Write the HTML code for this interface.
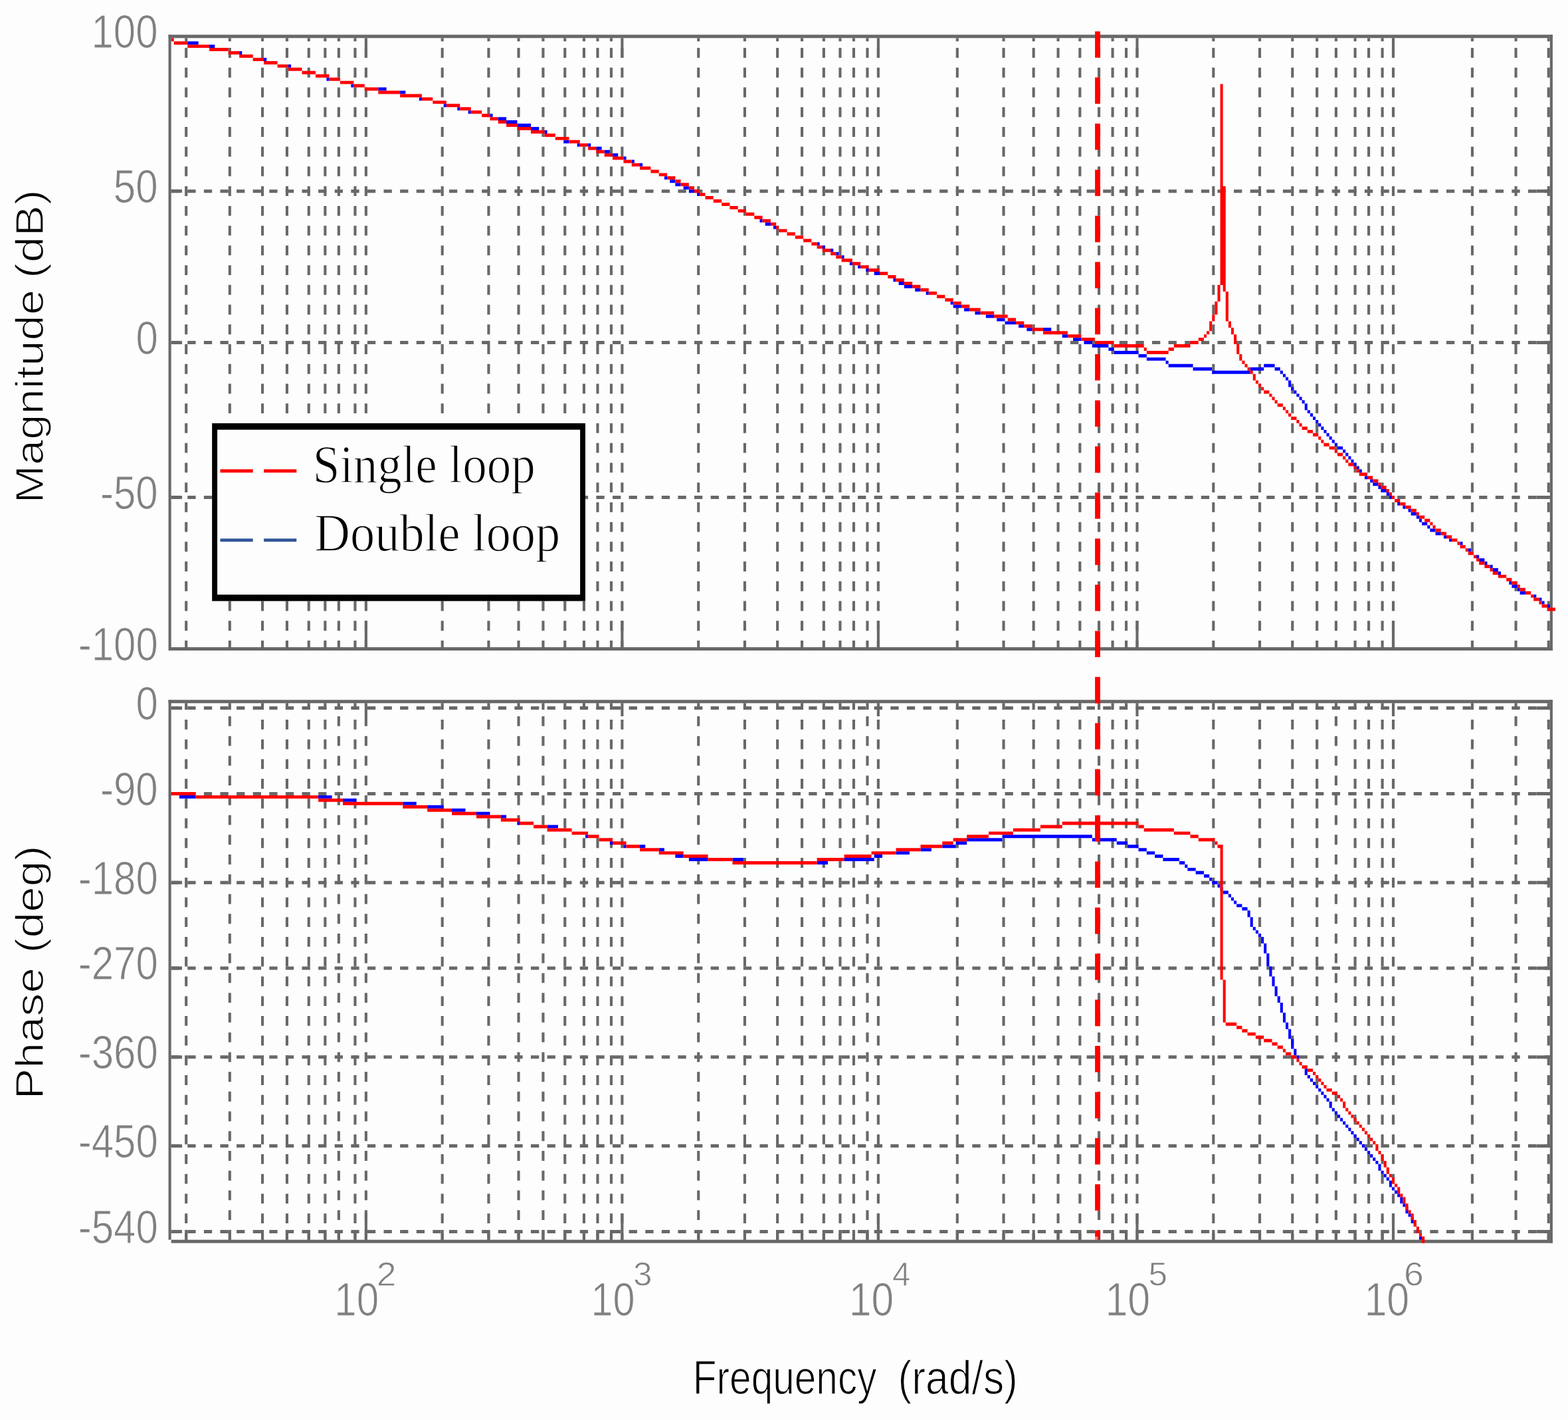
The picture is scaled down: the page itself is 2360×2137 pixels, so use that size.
<!DOCTYPE html>
<html lang="en">
<head>
<meta charset="utf-8">
<title>Bode plot: single loop vs double loop</title>
<style>
html,body{margin:0;padding:0;background:#fdfdfd;}
body{width:2360px;height:2137px;overflow:hidden;}
svg{display:block;}
</style>
</head>
<body>
<svg width="2360" height="2137" viewBox="0 0 2360 2137" role="img" aria-label="Bode plot of single loop and double loop control: magnitude and phase versus frequency">
<rect width="2360" height="2137" fill="#fdfdfd"/>
<g id="grid-top">
<line x1="280.20" y1="72.11" x2="280.20" y2="973.92" stroke="#686868" stroke-width="4.1011" stroke-dasharray="14.865 14.865"/>
<line x1="280.20" y1="57.25" x2="280.20" y2="62.20" stroke="#686868" stroke-width="4.1011"/>
<line x1="345.82" y1="72.11" x2="345.82" y2="973.92" stroke="#686868" stroke-width="4.1011" stroke-dasharray="14.865 14.865"/>
<line x1="345.82" y1="57.25" x2="345.82" y2="62.20" stroke="#686868" stroke-width="4.1011"/>
<line x1="395.04" y1="72.11" x2="395.04" y2="973.92" stroke="#686868" stroke-width="4.1011" stroke-dasharray="14.865 14.865"/>
<line x1="395.04" y1="57.25" x2="395.04" y2="62.20" stroke="#686868" stroke-width="4.1011"/>
<line x1="431.94" y1="72.11" x2="431.94" y2="973.92" stroke="#686868" stroke-width="4.1011" stroke-dasharray="14.865 14.865"/>
<line x1="431.94" y1="57.25" x2="431.94" y2="62.20" stroke="#686868" stroke-width="4.1011"/>
<line x1="464.75" y1="72.11" x2="464.75" y2="973.92" stroke="#686868" stroke-width="4.1011" stroke-dasharray="14.865 14.865"/>
<line x1="464.75" y1="57.25" x2="464.75" y2="62.20" stroke="#686868" stroke-width="4.1011"/>
<line x1="489.36" y1="72.11" x2="489.36" y2="973.92" stroke="#686868" stroke-width="4.1011" stroke-dasharray="14.865 14.865"/>
<line x1="489.36" y1="57.25" x2="489.36" y2="62.20" stroke="#686868" stroke-width="4.1011"/>
<line x1="509.87" y1="72.11" x2="509.87" y2="973.92" stroke="#686868" stroke-width="4.1011" stroke-dasharray="14.865 14.865"/>
<line x1="509.87" y1="57.25" x2="509.87" y2="62.20" stroke="#686868" stroke-width="4.1011"/>
<line x1="534.47" y1="72.11" x2="534.47" y2="973.92" stroke="#686868" stroke-width="4.1011" stroke-dasharray="14.865 14.865"/>
<line x1="534.47" y1="57.25" x2="534.47" y2="62.20" stroke="#686868" stroke-width="4.1011"/>
<line x1="550.88" y1="72.11" x2="550.88" y2="973.92" stroke="#686868" stroke-width="4.1011" stroke-dasharray="14.865 14.865"/>
<line x1="550.88" y1="57.25" x2="550.88" y2="86.97" stroke="#686868" stroke-width="4.1011"/>
<line x1="550.88" y1="934.28" x2="550.88" y2="973.92" stroke="#686868" stroke-width="4.1011"/>
<line x1="665.71" y1="72.11" x2="665.71" y2="973.92" stroke="#686868" stroke-width="4.1011" stroke-dasharray="14.865 14.865"/>
<line x1="665.71" y1="57.25" x2="665.71" y2="62.20" stroke="#686868" stroke-width="4.1011"/>
<line x1="735.43" y1="72.11" x2="735.43" y2="973.92" stroke="#686868" stroke-width="4.1011" stroke-dasharray="14.865 14.865"/>
<line x1="735.43" y1="57.25" x2="735.43" y2="62.20" stroke="#686868" stroke-width="4.1011"/>
<line x1="780.54" y1="72.11" x2="780.54" y2="973.92" stroke="#686868" stroke-width="4.1011" stroke-dasharray="14.865 14.865"/>
<line x1="780.54" y1="57.25" x2="780.54" y2="62.20" stroke="#686868" stroke-width="4.1011"/>
<line x1="817.45" y1="72.11" x2="817.45" y2="973.92" stroke="#686868" stroke-width="4.1011" stroke-dasharray="14.865 14.865"/>
<line x1="817.45" y1="57.25" x2="817.45" y2="62.20" stroke="#686868" stroke-width="4.1011"/>
<line x1="850.26" y1="72.11" x2="850.26" y2="973.92" stroke="#686868" stroke-width="4.1011" stroke-dasharray="14.865 14.865"/>
<line x1="850.26" y1="57.25" x2="850.26" y2="62.20" stroke="#686868" stroke-width="4.1011"/>
<line x1="878.96" y1="72.11" x2="878.96" y2="973.92" stroke="#686868" stroke-width="4.1011" stroke-dasharray="14.865 14.865"/>
<line x1="878.96" y1="57.25" x2="878.96" y2="62.20" stroke="#686868" stroke-width="4.1011"/>
<line x1="899.47" y1="72.11" x2="899.47" y2="973.92" stroke="#686868" stroke-width="4.1011" stroke-dasharray="14.865 14.865"/>
<line x1="899.47" y1="57.25" x2="899.47" y2="62.20" stroke="#686868" stroke-width="4.1011"/>
<line x1="919.98" y1="72.11" x2="919.98" y2="973.92" stroke="#686868" stroke-width="4.1011" stroke-dasharray="14.865 14.865"/>
<line x1="919.98" y1="57.25" x2="919.98" y2="62.20" stroke="#686868" stroke-width="4.1011"/>
<line x1="936.38" y1="72.11" x2="936.38" y2="973.92" stroke="#686868" stroke-width="4.1011" stroke-dasharray="14.865 14.865"/>
<line x1="936.38" y1="57.25" x2="936.38" y2="86.97" stroke="#686868" stroke-width="4.1011"/>
<line x1="936.38" y1="934.28" x2="936.38" y2="973.92" stroke="#686868" stroke-width="4.1011"/>
<line x1="1051.21" y1="72.11" x2="1051.21" y2="973.92" stroke="#686868" stroke-width="4.1011" stroke-dasharray="14.865 14.865"/>
<line x1="1051.21" y1="57.25" x2="1051.21" y2="62.20" stroke="#686868" stroke-width="4.1011"/>
<line x1="1120.93" y1="72.11" x2="1120.93" y2="973.92" stroke="#686868" stroke-width="4.1011" stroke-dasharray="14.865 14.865"/>
<line x1="1120.93" y1="57.25" x2="1120.93" y2="62.20" stroke="#686868" stroke-width="4.1011"/>
<line x1="1170.14" y1="72.11" x2="1170.14" y2="973.92" stroke="#686868" stroke-width="4.1011" stroke-dasharray="14.865 14.865"/>
<line x1="1170.14" y1="57.25" x2="1170.14" y2="62.20" stroke="#686868" stroke-width="4.1011"/>
<line x1="1207.05" y1="72.11" x2="1207.05" y2="973.92" stroke="#686868" stroke-width="4.1011" stroke-dasharray="14.865 14.865"/>
<line x1="1207.05" y1="57.25" x2="1207.05" y2="62.20" stroke="#686868" stroke-width="4.1011"/>
<line x1="1239.86" y1="72.11" x2="1239.86" y2="973.92" stroke="#686868" stroke-width="4.1011" stroke-dasharray="14.865 14.865"/>
<line x1="1239.86" y1="57.25" x2="1239.86" y2="62.20" stroke="#686868" stroke-width="4.1011"/>
<line x1="1264.47" y1="72.11" x2="1264.47" y2="973.92" stroke="#686868" stroke-width="4.1011" stroke-dasharray="14.865 14.865"/>
<line x1="1264.47" y1="57.25" x2="1264.47" y2="62.20" stroke="#686868" stroke-width="4.1011"/>
<line x1="1284.97" y1="72.11" x2="1284.97" y2="973.92" stroke="#686868" stroke-width="4.1011" stroke-dasharray="14.865 14.865"/>
<line x1="1284.97" y1="57.25" x2="1284.97" y2="62.20" stroke="#686868" stroke-width="4.1011"/>
<line x1="1305.48" y1="72.11" x2="1305.48" y2="973.92" stroke="#686868" stroke-width="4.1011" stroke-dasharray="14.865 14.865"/>
<line x1="1305.48" y1="57.25" x2="1305.48" y2="62.20" stroke="#686868" stroke-width="4.1011"/>
<line x1="1321.88" y1="72.11" x2="1321.88" y2="973.92" stroke="#686868" stroke-width="4.1011" stroke-dasharray="14.865 14.865"/>
<line x1="1321.88" y1="57.25" x2="1321.88" y2="86.97" stroke="#686868" stroke-width="4.1011"/>
<line x1="1321.88" y1="934.28" x2="1321.88" y2="973.92" stroke="#686868" stroke-width="4.1011"/>
<line x1="1440.82" y1="72.11" x2="1440.82" y2="973.92" stroke="#686868" stroke-width="4.1011" stroke-dasharray="14.865 14.865"/>
<line x1="1440.82" y1="57.25" x2="1440.82" y2="62.20" stroke="#686868" stroke-width="4.1011"/>
<line x1="1510.53" y1="72.11" x2="1510.53" y2="973.92" stroke="#686868" stroke-width="4.1011" stroke-dasharray="14.865 14.865"/>
<line x1="1510.53" y1="57.25" x2="1510.53" y2="62.20" stroke="#686868" stroke-width="4.1011"/>
<line x1="1555.65" y1="72.11" x2="1555.65" y2="973.92" stroke="#686868" stroke-width="4.1011" stroke-dasharray="14.865 14.865"/>
<line x1="1555.65" y1="57.25" x2="1555.65" y2="62.20" stroke="#686868" stroke-width="4.1011"/>
<line x1="1592.56" y1="72.11" x2="1592.56" y2="973.92" stroke="#686868" stroke-width="4.1011" stroke-dasharray="14.865 14.865"/>
<line x1="1592.56" y1="57.25" x2="1592.56" y2="62.20" stroke="#686868" stroke-width="4.1011"/>
<line x1="1625.37" y1="72.11" x2="1625.37" y2="973.92" stroke="#686868" stroke-width="4.1011" stroke-dasharray="14.865 14.865"/>
<line x1="1625.37" y1="57.25" x2="1625.37" y2="62.20" stroke="#686868" stroke-width="4.1011"/>
<line x1="1654.07" y1="72.11" x2="1654.07" y2="973.92" stroke="#686868" stroke-width="4.1011" stroke-dasharray="14.865 14.865"/>
<line x1="1654.07" y1="57.25" x2="1654.07" y2="62.20" stroke="#686868" stroke-width="4.1011"/>
<line x1="1674.58" y1="72.11" x2="1674.58" y2="973.92" stroke="#686868" stroke-width="4.1011" stroke-dasharray="14.865 14.865"/>
<line x1="1674.58" y1="57.25" x2="1674.58" y2="62.20" stroke="#686868" stroke-width="4.1011"/>
<line x1="1695.08" y1="72.11" x2="1695.08" y2="973.92" stroke="#686868" stroke-width="4.1011" stroke-dasharray="14.865 14.865"/>
<line x1="1695.08" y1="57.25" x2="1695.08" y2="62.20" stroke="#686868" stroke-width="4.1011"/>
<line x1="1711.49" y1="72.11" x2="1711.49" y2="973.92" stroke="#686868" stroke-width="4.1011" stroke-dasharray="14.865 14.865"/>
<line x1="1711.49" y1="57.25" x2="1711.49" y2="86.97" stroke="#686868" stroke-width="4.1011"/>
<line x1="1711.49" y1="934.28" x2="1711.49" y2="973.92" stroke="#686868" stroke-width="4.1011"/>
<line x1="1826.32" y1="72.11" x2="1826.32" y2="973.92" stroke="#686868" stroke-width="4.1011" stroke-dasharray="14.865 14.865"/>
<line x1="1826.32" y1="57.25" x2="1826.32" y2="62.20" stroke="#686868" stroke-width="4.1011"/>
<line x1="1896.04" y1="72.11" x2="1896.04" y2="973.92" stroke="#686868" stroke-width="4.1011" stroke-dasharray="14.865 14.865"/>
<line x1="1896.04" y1="57.25" x2="1896.04" y2="62.20" stroke="#686868" stroke-width="4.1011"/>
<line x1="1945.25" y1="72.11" x2="1945.25" y2="973.92" stroke="#686868" stroke-width="4.1011" stroke-dasharray="14.865 14.865"/>
<line x1="1945.25" y1="57.25" x2="1945.25" y2="62.20" stroke="#686868" stroke-width="4.1011"/>
<line x1="1982.16" y1="72.11" x2="1982.16" y2="973.92" stroke="#686868" stroke-width="4.1011" stroke-dasharray="14.865 14.865"/>
<line x1="1982.16" y1="57.25" x2="1982.16" y2="62.20" stroke="#686868" stroke-width="4.1011"/>
<line x1="2010.87" y1="72.11" x2="2010.87" y2="973.92" stroke="#686868" stroke-width="4.1011" stroke-dasharray="14.865 14.865"/>
<line x1="2010.87" y1="57.25" x2="2010.87" y2="62.20" stroke="#686868" stroke-width="4.1011"/>
<line x1="2039.58" y1="72.11" x2="2039.58" y2="973.92" stroke="#686868" stroke-width="4.1011" stroke-dasharray="14.865 14.865"/>
<line x1="2039.58" y1="57.25" x2="2039.58" y2="62.20" stroke="#686868" stroke-width="4.1011"/>
<line x1="2060.08" y1="72.11" x2="2060.08" y2="973.92" stroke="#686868" stroke-width="4.1011" stroke-dasharray="14.865 14.865"/>
<line x1="2060.08" y1="57.25" x2="2060.08" y2="62.20" stroke="#686868" stroke-width="4.1011"/>
<line x1="2080.59" y1="72.11" x2="2080.59" y2="973.92" stroke="#686868" stroke-width="4.1011" stroke-dasharray="14.865 14.865"/>
<line x1="2080.59" y1="57.25" x2="2080.59" y2="62.20" stroke="#686868" stroke-width="4.1011"/>
<line x1="2096.99" y1="72.11" x2="2096.99" y2="973.92" stroke="#686868" stroke-width="4.1011" stroke-dasharray="14.865 14.865"/>
<line x1="2096.99" y1="57.25" x2="2096.99" y2="86.97" stroke="#686868" stroke-width="4.1011"/>
<line x1="2096.99" y1="934.28" x2="2096.99" y2="973.92" stroke="#686868" stroke-width="4.1011"/>
<line x1="2215.92" y1="72.11" x2="2215.92" y2="973.92" stroke="#686868" stroke-width="4.1011" stroke-dasharray="14.865 14.865"/>
<line x1="2215.92" y1="57.25" x2="2215.92" y2="62.20" stroke="#686868" stroke-width="4.1011"/>
<line x1="2281.54" y1="72.11" x2="2281.54" y2="973.92" stroke="#686868" stroke-width="4.1011" stroke-dasharray="14.865 14.865"/>
<line x1="2281.54" y1="57.25" x2="2281.54" y2="62.20" stroke="#686868" stroke-width="4.1011"/>
<line x1="2330.75" y1="72.11" x2="2330.75" y2="973.92" stroke="#686868" stroke-width="4.1011" stroke-dasharray="14.865 14.865"/>
<line x1="2330.75" y1="57.25" x2="2330.75" y2="62.20" stroke="#686868" stroke-width="4.1011"/>
<line x1="257.65" y1="287.65" x2="2332.80" y2="287.65" stroke="#686868" stroke-width="4.955" stroke-dasharray="12.303 12.303"/>
<line x1="257.65" y1="287.65" x2="274.05" y2="287.65" stroke="#686868" stroke-width="4.955"/>
<line x1="2312.30" y1="287.65" x2="2332.80" y2="287.65" stroke="#686868" stroke-width="4.955"/>
<line x1="257.65" y1="515.58" x2="2332.80" y2="515.58" stroke="#686868" stroke-width="4.955" stroke-dasharray="12.303 12.303"/>
<line x1="257.65" y1="515.58" x2="274.05" y2="515.58" stroke="#686868" stroke-width="4.955"/>
<line x1="2312.30" y1="515.58" x2="2332.80" y2="515.58" stroke="#686868" stroke-width="4.955"/>
<line x1="257.65" y1="748.47" x2="2332.80" y2="748.47" stroke="#686868" stroke-width="4.955" stroke-dasharray="12.303 12.303"/>
<line x1="257.65" y1="748.47" x2="274.05" y2="748.47" stroke="#686868" stroke-width="4.955"/>
<line x1="2312.30" y1="748.47" x2="2332.80" y2="748.47" stroke="#686868" stroke-width="4.955"/>
<line x1="253.55" y1="54.77" x2="2336.91" y2="54.77" stroke="#686868" stroke-width="4.955"/>
<line x1="253.55" y1="976.40" x2="2336.91" y2="976.40" stroke="#686868" stroke-width="4.955"/>
<line x1="255.60" y1="52.29" x2="255.60" y2="973.92" stroke="#686868" stroke-width="4.1011"/>
<line x1="2334.86" y1="52.29" x2="2334.86" y2="978.88" stroke="#686868" stroke-width="4.1011"/>
</g>
<g id="grid-bottom">
<line x1="280.20" y1="1082.93" x2="280.20" y2="1865.82" stroke="#686868" stroke-width="4.1011" stroke-dasharray="14.865 14.865"/>
<line x1="280.20" y1="1058.15" x2="280.20" y2="1068.07" stroke="#686868" stroke-width="4.1011"/>
<line x1="280.20" y1="1850.95" x2="280.20" y2="1865.82" stroke="#686868" stroke-width="4.1011"/>
<line x1="345.82" y1="1077.98" x2="345.82" y2="1865.82" stroke="#686868" stroke-width="4.1011" stroke-dasharray="14.865 14.865"/>
<line x1="345.82" y1="1058.15" x2="345.82" y2="1068.07" stroke="#686868" stroke-width="4.1011"/>
<line x1="345.82" y1="1850.95" x2="345.82" y2="1865.82" stroke="#686868" stroke-width="4.1011"/>
<line x1="395.04" y1="1082.93" x2="395.04" y2="1865.82" stroke="#686868" stroke-width="4.1011" stroke-dasharray="14.865 14.865"/>
<line x1="395.04" y1="1058.15" x2="395.04" y2="1068.07" stroke="#686868" stroke-width="4.1011"/>
<line x1="395.04" y1="1850.95" x2="395.04" y2="1865.82" stroke="#686868" stroke-width="4.1011"/>
<line x1="431.94" y1="1082.93" x2="431.94" y2="1865.82" stroke="#686868" stroke-width="4.1011" stroke-dasharray="14.865 14.865"/>
<line x1="431.94" y1="1058.15" x2="431.94" y2="1068.07" stroke="#686868" stroke-width="4.1011"/>
<line x1="431.94" y1="1850.95" x2="431.94" y2="1865.82" stroke="#686868" stroke-width="4.1011"/>
<line x1="464.75" y1="1082.93" x2="464.75" y2="1865.82" stroke="#686868" stroke-width="4.1011" stroke-dasharray="14.865 14.865"/>
<line x1="464.75" y1="1058.15" x2="464.75" y2="1068.07" stroke="#686868" stroke-width="4.1011"/>
<line x1="464.75" y1="1850.95" x2="464.75" y2="1865.82" stroke="#686868" stroke-width="4.1011"/>
<line x1="489.36" y1="1082.93" x2="489.36" y2="1865.82" stroke="#686868" stroke-width="4.1011" stroke-dasharray="14.865 14.865"/>
<line x1="489.36" y1="1058.15" x2="489.36" y2="1068.07" stroke="#686868" stroke-width="4.1011"/>
<line x1="489.36" y1="1850.95" x2="489.36" y2="1865.82" stroke="#686868" stroke-width="4.1011"/>
<line x1="509.87" y1="1077.98" x2="509.87" y2="1865.82" stroke="#686868" stroke-width="4.1011" stroke-dasharray="14.865 14.865"/>
<line x1="509.87" y1="1058.15" x2="509.87" y2="1068.07" stroke="#686868" stroke-width="4.1011"/>
<line x1="509.87" y1="1850.95" x2="509.87" y2="1865.82" stroke="#686868" stroke-width="4.1011"/>
<line x1="534.47" y1="1082.93" x2="534.47" y2="1865.82" stroke="#686868" stroke-width="4.1011" stroke-dasharray="14.865 14.865"/>
<line x1="534.47" y1="1058.15" x2="534.47" y2="1068.07" stroke="#686868" stroke-width="4.1011"/>
<line x1="534.47" y1="1850.95" x2="534.47" y2="1865.82" stroke="#686868" stroke-width="4.1011"/>
<line x1="550.88" y1="1077.98" x2="550.88" y2="1865.82" stroke="#686868" stroke-width="4.1011" stroke-dasharray="14.865 14.865"/>
<line x1="550.88" y1="1058.15" x2="550.88" y2="1077.98" stroke="#686868" stroke-width="4.1011"/>
<line x1="550.88" y1="1826.18" x2="550.88" y2="1865.82" stroke="#686868" stroke-width="4.1011"/>
<line x1="665.71" y1="1082.93" x2="665.71" y2="1865.82" stroke="#686868" stroke-width="4.1011" stroke-dasharray="14.865 14.865"/>
<line x1="665.71" y1="1058.15" x2="665.71" y2="1068.07" stroke="#686868" stroke-width="4.1011"/>
<line x1="665.71" y1="1850.95" x2="665.71" y2="1865.82" stroke="#686868" stroke-width="4.1011"/>
<line x1="735.43" y1="1082.93" x2="735.43" y2="1865.82" stroke="#686868" stroke-width="4.1011" stroke-dasharray="14.865 14.865"/>
<line x1="735.43" y1="1058.15" x2="735.43" y2="1068.07" stroke="#686868" stroke-width="4.1011"/>
<line x1="735.43" y1="1850.95" x2="735.43" y2="1865.82" stroke="#686868" stroke-width="4.1011"/>
<line x1="780.54" y1="1077.98" x2="780.54" y2="1865.82" stroke="#686868" stroke-width="4.1011" stroke-dasharray="14.865 14.865"/>
<line x1="780.54" y1="1058.15" x2="780.54" y2="1068.07" stroke="#686868" stroke-width="4.1011"/>
<line x1="780.54" y1="1850.95" x2="780.54" y2="1865.82" stroke="#686868" stroke-width="4.1011"/>
<line x1="817.45" y1="1077.98" x2="817.45" y2="1865.82" stroke="#686868" stroke-width="4.1011" stroke-dasharray="14.865 14.865"/>
<line x1="817.45" y1="1058.15" x2="817.45" y2="1068.07" stroke="#686868" stroke-width="4.1011"/>
<line x1="817.45" y1="1850.95" x2="817.45" y2="1865.82" stroke="#686868" stroke-width="4.1011"/>
<line x1="850.26" y1="1082.93" x2="850.26" y2="1865.82" stroke="#686868" stroke-width="4.1011" stroke-dasharray="14.865 14.865"/>
<line x1="850.26" y1="1058.15" x2="850.26" y2="1068.07" stroke="#686868" stroke-width="4.1011"/>
<line x1="850.26" y1="1850.95" x2="850.26" y2="1865.82" stroke="#686868" stroke-width="4.1011"/>
<line x1="878.96" y1="1082.93" x2="878.96" y2="1865.82" stroke="#686868" stroke-width="4.1011" stroke-dasharray="14.865 14.865"/>
<line x1="878.96" y1="1058.15" x2="878.96" y2="1068.07" stroke="#686868" stroke-width="4.1011"/>
<line x1="878.96" y1="1850.95" x2="878.96" y2="1865.82" stroke="#686868" stroke-width="4.1011"/>
<line x1="899.47" y1="1082.93" x2="899.47" y2="1865.82" stroke="#686868" stroke-width="4.1011" stroke-dasharray="14.865 14.865"/>
<line x1="899.47" y1="1058.15" x2="899.47" y2="1068.07" stroke="#686868" stroke-width="4.1011"/>
<line x1="899.47" y1="1850.95" x2="899.47" y2="1865.82" stroke="#686868" stroke-width="4.1011"/>
<line x1="919.98" y1="1082.93" x2="919.98" y2="1865.82" stroke="#686868" stroke-width="4.1011" stroke-dasharray="14.865 14.865"/>
<line x1="919.98" y1="1058.15" x2="919.98" y2="1068.07" stroke="#686868" stroke-width="4.1011"/>
<line x1="919.98" y1="1850.95" x2="919.98" y2="1865.82" stroke="#686868" stroke-width="4.1011"/>
<line x1="936.38" y1="1082.93" x2="936.38" y2="1865.82" stroke="#686868" stroke-width="4.1011" stroke-dasharray="14.865 14.865"/>
<line x1="936.38" y1="1058.15" x2="936.38" y2="1077.98" stroke="#686868" stroke-width="4.1011"/>
<line x1="936.38" y1="1826.18" x2="936.38" y2="1865.82" stroke="#686868" stroke-width="4.1011"/>
<line x1="1051.21" y1="1077.98" x2="1051.21" y2="1865.82" stroke="#686868" stroke-width="4.1011" stroke-dasharray="14.865 14.865"/>
<line x1="1051.21" y1="1058.15" x2="1051.21" y2="1068.07" stroke="#686868" stroke-width="4.1011"/>
<line x1="1051.21" y1="1850.95" x2="1051.21" y2="1865.82" stroke="#686868" stroke-width="4.1011"/>
<line x1="1120.93" y1="1082.93" x2="1120.93" y2="1865.82" stroke="#686868" stroke-width="4.1011" stroke-dasharray="14.865 14.865"/>
<line x1="1120.93" y1="1058.15" x2="1120.93" y2="1068.07" stroke="#686868" stroke-width="4.1011"/>
<line x1="1120.93" y1="1850.95" x2="1120.93" y2="1865.82" stroke="#686868" stroke-width="4.1011"/>
<line x1="1170.14" y1="1082.93" x2="1170.14" y2="1865.82" stroke="#686868" stroke-width="4.1011" stroke-dasharray="14.865 14.865"/>
<line x1="1170.14" y1="1058.15" x2="1170.14" y2="1068.07" stroke="#686868" stroke-width="4.1011"/>
<line x1="1170.14" y1="1850.95" x2="1170.14" y2="1865.82" stroke="#686868" stroke-width="4.1011"/>
<line x1="1207.05" y1="1082.93" x2="1207.05" y2="1865.82" stroke="#686868" stroke-width="4.1011" stroke-dasharray="14.865 14.865"/>
<line x1="1207.05" y1="1058.15" x2="1207.05" y2="1068.07" stroke="#686868" stroke-width="4.1011"/>
<line x1="1207.05" y1="1850.95" x2="1207.05" y2="1865.82" stroke="#686868" stroke-width="4.1011"/>
<line x1="1239.86" y1="1082.93" x2="1239.86" y2="1865.82" stroke="#686868" stroke-width="4.1011" stroke-dasharray="14.865 14.865"/>
<line x1="1239.86" y1="1058.15" x2="1239.86" y2="1068.07" stroke="#686868" stroke-width="4.1011"/>
<line x1="1239.86" y1="1850.95" x2="1239.86" y2="1865.82" stroke="#686868" stroke-width="4.1011"/>
<line x1="1264.47" y1="1082.93" x2="1264.47" y2="1865.82" stroke="#686868" stroke-width="4.1011" stroke-dasharray="14.865 14.865"/>
<line x1="1264.47" y1="1058.15" x2="1264.47" y2="1068.07" stroke="#686868" stroke-width="4.1011"/>
<line x1="1264.47" y1="1850.95" x2="1264.47" y2="1865.82" stroke="#686868" stroke-width="4.1011"/>
<line x1="1284.97" y1="1082.93" x2="1284.97" y2="1865.82" stroke="#686868" stroke-width="4.1011" stroke-dasharray="14.865 14.865"/>
<line x1="1284.97" y1="1058.15" x2="1284.97" y2="1068.07" stroke="#686868" stroke-width="4.1011"/>
<line x1="1284.97" y1="1850.95" x2="1284.97" y2="1865.82" stroke="#686868" stroke-width="4.1011"/>
<line x1="1305.48" y1="1077.98" x2="1305.48" y2="1865.82" stroke="#686868" stroke-width="4.1011" stroke-dasharray="14.865 14.865"/>
<line x1="1305.48" y1="1058.15" x2="1305.48" y2="1068.07" stroke="#686868" stroke-width="4.1011"/>
<line x1="1305.48" y1="1850.95" x2="1305.48" y2="1865.82" stroke="#686868" stroke-width="4.1011"/>
<line x1="1321.88" y1="1082.93" x2="1321.88" y2="1865.82" stroke="#686868" stroke-width="4.1011" stroke-dasharray="14.865 14.865"/>
<line x1="1321.88" y1="1058.15" x2="1321.88" y2="1077.98" stroke="#686868" stroke-width="4.1011"/>
<line x1="1321.88" y1="1826.18" x2="1321.88" y2="1865.82" stroke="#686868" stroke-width="4.1011"/>
<line x1="1440.82" y1="1082.93" x2="1440.82" y2="1865.82" stroke="#686868" stroke-width="4.1011" stroke-dasharray="14.865 14.865"/>
<line x1="1440.82" y1="1058.15" x2="1440.82" y2="1068.07" stroke="#686868" stroke-width="4.1011"/>
<line x1="1440.82" y1="1850.95" x2="1440.82" y2="1865.82" stroke="#686868" stroke-width="4.1011"/>
<line x1="1510.53" y1="1082.93" x2="1510.53" y2="1865.82" stroke="#686868" stroke-width="4.1011" stroke-dasharray="14.865 14.865"/>
<line x1="1510.53" y1="1058.15" x2="1510.53" y2="1068.07" stroke="#686868" stroke-width="4.1011"/>
<line x1="1510.53" y1="1850.95" x2="1510.53" y2="1865.82" stroke="#686868" stroke-width="4.1011"/>
<line x1="1555.65" y1="1082.93" x2="1555.65" y2="1865.82" stroke="#686868" stroke-width="4.1011" stroke-dasharray="14.865 14.865"/>
<line x1="1555.65" y1="1058.15" x2="1555.65" y2="1068.07" stroke="#686868" stroke-width="4.1011"/>
<line x1="1555.65" y1="1850.95" x2="1555.65" y2="1865.82" stroke="#686868" stroke-width="4.1011"/>
<line x1="1592.56" y1="1082.93" x2="1592.56" y2="1865.82" stroke="#686868" stroke-width="4.1011" stroke-dasharray="14.865 14.865"/>
<line x1="1592.56" y1="1058.15" x2="1592.56" y2="1068.07" stroke="#686868" stroke-width="4.1011"/>
<line x1="1592.56" y1="1850.95" x2="1592.56" y2="1865.82" stroke="#686868" stroke-width="4.1011"/>
<line x1="1625.37" y1="1082.93" x2="1625.37" y2="1865.82" stroke="#686868" stroke-width="4.1011" stroke-dasharray="14.865 14.865"/>
<line x1="1625.37" y1="1058.15" x2="1625.37" y2="1068.07" stroke="#686868" stroke-width="4.1011"/>
<line x1="1625.37" y1="1850.95" x2="1625.37" y2="1865.82" stroke="#686868" stroke-width="4.1011"/>
<line x1="1654.07" y1="1077.98" x2="1654.07" y2="1865.82" stroke="#686868" stroke-width="4.1011" stroke-dasharray="14.865 14.865"/>
<line x1="1654.07" y1="1058.15" x2="1654.07" y2="1068.07" stroke="#686868" stroke-width="4.1011"/>
<line x1="1654.07" y1="1850.95" x2="1654.07" y2="1865.82" stroke="#686868" stroke-width="4.1011"/>
<line x1="1674.58" y1="1082.93" x2="1674.58" y2="1865.82" stroke="#686868" stroke-width="4.1011" stroke-dasharray="14.865 14.865"/>
<line x1="1674.58" y1="1058.15" x2="1674.58" y2="1068.07" stroke="#686868" stroke-width="4.1011"/>
<line x1="1674.58" y1="1850.95" x2="1674.58" y2="1865.82" stroke="#686868" stroke-width="4.1011"/>
<line x1="1695.08" y1="1082.93" x2="1695.08" y2="1865.82" stroke="#686868" stroke-width="4.1011" stroke-dasharray="14.865 14.865"/>
<line x1="1695.08" y1="1058.15" x2="1695.08" y2="1068.07" stroke="#686868" stroke-width="4.1011"/>
<line x1="1695.08" y1="1850.95" x2="1695.08" y2="1865.82" stroke="#686868" stroke-width="4.1011"/>
<line x1="1711.49" y1="1082.93" x2="1711.49" y2="1865.82" stroke="#686868" stroke-width="4.1011" stroke-dasharray="14.865 14.865"/>
<line x1="1711.49" y1="1058.15" x2="1711.49" y2="1077.98" stroke="#686868" stroke-width="4.1011"/>
<line x1="1711.49" y1="1826.18" x2="1711.49" y2="1865.82" stroke="#686868" stroke-width="4.1011"/>
<line x1="1826.32" y1="1082.93" x2="1826.32" y2="1865.82" stroke="#686868" stroke-width="4.1011" stroke-dasharray="14.865 14.865"/>
<line x1="1826.32" y1="1058.15" x2="1826.32" y2="1068.07" stroke="#686868" stroke-width="4.1011"/>
<line x1="1826.32" y1="1850.95" x2="1826.32" y2="1865.82" stroke="#686868" stroke-width="4.1011"/>
<line x1="1896.04" y1="1082.93" x2="1896.04" y2="1865.82" stroke="#686868" stroke-width="4.1011" stroke-dasharray="14.865 14.865"/>
<line x1="1896.04" y1="1058.15" x2="1896.04" y2="1068.07" stroke="#686868" stroke-width="4.1011"/>
<line x1="1896.04" y1="1850.95" x2="1896.04" y2="1865.82" stroke="#686868" stroke-width="4.1011"/>
<line x1="1945.25" y1="1082.93" x2="1945.25" y2="1865.82" stroke="#686868" stroke-width="4.1011" stroke-dasharray="14.865 14.865"/>
<line x1="1945.25" y1="1058.15" x2="1945.25" y2="1068.07" stroke="#686868" stroke-width="4.1011"/>
<line x1="1945.25" y1="1850.95" x2="1945.25" y2="1865.82" stroke="#686868" stroke-width="4.1011"/>
<line x1="1982.16" y1="1082.93" x2="1982.16" y2="1865.82" stroke="#686868" stroke-width="4.1011" stroke-dasharray="14.865 14.865"/>
<line x1="1982.16" y1="1058.15" x2="1982.16" y2="1068.07" stroke="#686868" stroke-width="4.1011"/>
<line x1="1982.16" y1="1850.95" x2="1982.16" y2="1865.82" stroke="#686868" stroke-width="4.1011"/>
<line x1="2010.87" y1="1077.98" x2="2010.87" y2="1865.82" stroke="#686868" stroke-width="4.1011" stroke-dasharray="14.865 14.865"/>
<line x1="2010.87" y1="1058.15" x2="2010.87" y2="1068.07" stroke="#686868" stroke-width="4.1011"/>
<line x1="2010.87" y1="1850.95" x2="2010.87" y2="1865.82" stroke="#686868" stroke-width="4.1011"/>
<line x1="2039.58" y1="1082.93" x2="2039.58" y2="1865.82" stroke="#686868" stroke-width="4.1011" stroke-dasharray="14.865 14.865"/>
<line x1="2039.58" y1="1058.15" x2="2039.58" y2="1068.07" stroke="#686868" stroke-width="4.1011"/>
<line x1="2039.58" y1="1850.95" x2="2039.58" y2="1865.82" stroke="#686868" stroke-width="4.1011"/>
<line x1="2060.08" y1="1082.93" x2="2060.08" y2="1865.82" stroke="#686868" stroke-width="4.1011" stroke-dasharray="14.865 14.865"/>
<line x1="2060.08" y1="1058.15" x2="2060.08" y2="1068.07" stroke="#686868" stroke-width="4.1011"/>
<line x1="2060.08" y1="1850.95" x2="2060.08" y2="1865.82" stroke="#686868" stroke-width="4.1011"/>
<line x1="2080.59" y1="1082.93" x2="2080.59" y2="1865.82" stroke="#686868" stroke-width="4.1011" stroke-dasharray="14.865 14.865"/>
<line x1="2080.59" y1="1058.15" x2="2080.59" y2="1068.07" stroke="#686868" stroke-width="4.1011"/>
<line x1="2080.59" y1="1850.95" x2="2080.59" y2="1865.82" stroke="#686868" stroke-width="4.1011"/>
<line x1="2096.99" y1="1082.93" x2="2096.99" y2="1865.82" stroke="#686868" stroke-width="4.1011" stroke-dasharray="14.865 14.865"/>
<line x1="2096.99" y1="1058.15" x2="2096.99" y2="1077.98" stroke="#686868" stroke-width="4.1011"/>
<line x1="2096.99" y1="1826.18" x2="2096.99" y2="1865.82" stroke="#686868" stroke-width="4.1011"/>
<line x1="2215.92" y1="1082.93" x2="2215.92" y2="1865.82" stroke="#686868" stroke-width="4.1011" stroke-dasharray="14.865 14.865"/>
<line x1="2215.92" y1="1058.15" x2="2215.92" y2="1068.07" stroke="#686868" stroke-width="4.1011"/>
<line x1="2215.92" y1="1850.95" x2="2215.92" y2="1865.82" stroke="#686868" stroke-width="4.1011"/>
<line x1="2281.54" y1="1077.98" x2="2281.54" y2="1865.82" stroke="#686868" stroke-width="4.1011" stroke-dasharray="14.865 14.865"/>
<line x1="2281.54" y1="1058.15" x2="2281.54" y2="1068.07" stroke="#686868" stroke-width="4.1011"/>
<line x1="2281.54" y1="1850.95" x2="2281.54" y2="1865.82" stroke="#686868" stroke-width="4.1011"/>
<line x1="2330.75" y1="1082.93" x2="2330.75" y2="1865.82" stroke="#686868" stroke-width="4.1011" stroke-dasharray="14.865 14.865"/>
<line x1="2330.75" y1="1058.15" x2="2330.75" y2="1068.07" stroke="#686868" stroke-width="4.1011"/>
<line x1="2330.75" y1="1850.95" x2="2330.75" y2="1865.82" stroke="#686868" stroke-width="4.1011"/>
<line x1="257.65" y1="1065.59" x2="2332.80" y2="1065.59" stroke="#686868" stroke-width="4.955" stroke-dasharray="12.303 12.303"/>
<line x1="257.65" y1="1065.59" x2="274.05" y2="1065.59" stroke="#686868" stroke-width="4.955"/>
<line x1="2312.30" y1="1065.59" x2="2332.80" y2="1065.59" stroke="#686868" stroke-width="4.955"/>
<line x1="257.65" y1="1194.42" x2="2332.80" y2="1194.42" stroke="#686868" stroke-width="4.955" stroke-dasharray="12.303 12.303"/>
<line x1="257.65" y1="1194.42" x2="274.05" y2="1194.42" stroke="#686868" stroke-width="4.955"/>
<line x1="2312.30" y1="1194.42" x2="2332.80" y2="1194.42" stroke="#686868" stroke-width="4.955"/>
<line x1="257.65" y1="1328.20" x2="2332.80" y2="1328.20" stroke="#686868" stroke-width="4.955" stroke-dasharray="12.303 12.303"/>
<line x1="257.65" y1="1328.20" x2="274.05" y2="1328.20" stroke="#686868" stroke-width="4.955"/>
<line x1="2312.30" y1="1328.20" x2="2332.80" y2="1328.20" stroke="#686868" stroke-width="4.955"/>
<line x1="257.65" y1="1457.03" x2="2332.80" y2="1457.03" stroke="#686868" stroke-width="4.955" stroke-dasharray="12.303 12.303"/>
<line x1="257.65" y1="1457.03" x2="274.05" y2="1457.03" stroke="#686868" stroke-width="4.955"/>
<line x1="2312.30" y1="1457.03" x2="2332.80" y2="1457.03" stroke="#686868" stroke-width="4.955"/>
<line x1="257.65" y1="1590.82" x2="2332.80" y2="1590.82" stroke="#686868" stroke-width="4.955" stroke-dasharray="12.303 12.303"/>
<line x1="257.65" y1="1590.82" x2="274.05" y2="1590.82" stroke="#686868" stroke-width="4.955"/>
<line x1="2312.30" y1="1590.82" x2="2332.80" y2="1590.82" stroke="#686868" stroke-width="4.955"/>
<line x1="257.65" y1="1724.60" x2="2332.80" y2="1724.60" stroke="#686868" stroke-width="4.955" stroke-dasharray="12.303 12.303"/>
<line x1="257.65" y1="1724.60" x2="274.05" y2="1724.60" stroke="#686868" stroke-width="4.955"/>
<line x1="2312.30" y1="1724.60" x2="2332.80" y2="1724.60" stroke="#686868" stroke-width="4.955"/>
<line x1="257.65" y1="1853.43" x2="2332.80" y2="1853.43" stroke="#686868" stroke-width="4.955" stroke-dasharray="12.303 12.303"/>
<line x1="257.65" y1="1853.43" x2="274.05" y2="1853.43" stroke="#686868" stroke-width="4.955"/>
<line x1="2312.30" y1="1853.43" x2="2332.80" y2="1853.43" stroke="#686868" stroke-width="4.955"/>
<line x1="253.55" y1="1055.68" x2="2336.91" y2="1055.68" stroke="#686868" stroke-width="4.955"/>
<line x1="257.65" y1="1868.30" x2="2336.91" y2="1868.30" stroke="#686868" stroke-width="4.955"/>
<line x1="255.60" y1="1053.20" x2="255.60" y2="1865.82" stroke="#686868" stroke-width="4.1011"/>
<line x1="2334.86" y1="1053.20" x2="2334.86" y2="1870.78" stroke="#686868" stroke-width="4.1011"/>
</g>
<g id="curves">
<path d="M282.25 62.20h16.40v4.96h-16.40zM315.06 67.16h8.20v4.96h-8.20zM360.18 77.06h4.10v4.96h-4.10zM397.09 86.97h4.10v4.96h-4.10zM434.00 96.88h4.10v4.96h-4.10zM491.41 116.70h4.10v4.96h-4.10zM528.32 126.61h4.10v4.96h-4.10zM569.33 131.57h12.30v4.96h-12.30zM602.14 136.53h8.20v4.96h-8.20zM630.85 146.44h4.10v4.96h-4.10zM667.76 156.34h4.10v4.96h-4.10zM688.26 161.30h4.10v4.96h-4.10zM704.67 166.26h4.10v4.96h-4.10zM737.48 171.21h4.10v4.96h-4.10zM749.78 176.17h12.30v4.96h-12.30zM762.08 181.12h16.40v4.96h-16.40zM778.49 186.08h20.51v4.96h-20.51zM798.99 191.03h12.30v4.96h-12.30zM819.50 195.99h4.10v4.96h-4.10zM848.21 210.85h8.20v4.96h-8.20zM868.71 215.81h4.10v4.96h-4.10zM885.12 215.81h4.10v4.96h-4.10zM897.42 220.76h8.20v4.96h-8.20zM909.72 225.72h8.20v4.96h-8.20zM922.03 230.67h8.20v4.96h-8.20zM938.43 235.62h4.10v4.96h-4.10zM950.73 240.58h4.10v4.96h-4.10zM963.04 245.54h4.10v4.96h-4.10zM999.95 265.36h4.10v4.96h-4.10zM1008.15 270.31h8.20v4.96h-8.20zM1016.35 275.26h8.20v4.96h-8.20zM1028.65 280.22h8.20v4.96h-8.20zM1036.86 285.18h8.20v4.96h-8.20zM1049.16 290.13h4.10v4.96h-4.10zM1143.49 329.77h4.10v4.96h-4.10zM1151.69 334.73h8.20v4.96h-8.20zM1163.99 339.68h4.10v4.96h-4.10zM1229.61 364.46h4.10v4.96h-4.10zM1237.81 369.41h4.10v4.96h-4.10zM1250.11 374.37h4.10v4.96h-4.10zM1258.32 379.32h4.10v4.96h-4.10zM1266.52 384.28h4.10v4.96h-4.10zM1278.82 394.19h4.10v4.96h-4.10zM1291.13 399.14h4.10v4.96h-4.10zM1303.43 404.10h4.10v4.96h-4.10zM1315.73 409.05h8.20v4.96h-8.20zM1344.44 418.96h4.10v4.96h-4.10zM1352.64 423.92h8.20v4.96h-8.20zM1360.84 428.87h12.30v4.96h-12.30zM1377.25 433.82h8.20v4.96h-8.20zM1393.65 438.78h4.10v4.96h-4.10zM1430.56 453.65h4.10v4.96h-4.10zM1434.66 458.60h12.30v4.96h-12.30zM1451.07 463.56h8.20v4.96h-8.20zM1467.47 468.51h8.20v4.96h-8.20zM1483.88 473.47h12.30v4.96h-12.30zM1500.28 478.42h12.30v4.96h-12.30zM1512.58 483.38h16.40v4.96h-16.40zM1533.09 488.33h8.20v4.96h-8.20zM1545.39 493.29h8.20v4.96h-8.20zM1570.00 493.29h12.30v4.96h-12.30zM1598.71 503.19h8.20v4.96h-8.20zM1615.11 508.15h12.30v4.96h-12.30zM1631.52 513.11h12.30v4.96h-12.30zM1643.82 518.06h24.61v4.96h-24.61zM1668.43 523.01h8.20v4.96h-8.20zM1676.63 527.97h36.91v4.96h-36.91zM1713.54 532.93h12.30v4.96h-12.30zM1725.84 537.88h28.71v4.96h-28.71zM1754.55 542.84h4.10v4.96h-4.10zM1758.65 547.79h36.91v4.96h-36.91zM1902.19 547.79h16.40v4.96h-16.40zM1795.56 552.75h28.71v4.96h-28.71zM1881.68 552.75h20.51v4.96h-20.51zM1918.59 552.75h8.20v4.96h-8.20zM1824.27 557.70h57.42v4.96h-57.42zM1926.80 557.70h4.10v4.96h-4.10zM1930.90 562.65h4.10v4.96h-4.10zM1935.00 567.61h4.10v4.96h-4.10zM1939.10 572.57h4.10v4.96h-4.10zM1939.10 577.52h4.10v4.96h-4.10zM1943.20 582.48h4.10v4.96h-4.10zM1947.30 587.43h4.10v4.96h-4.10zM1951.40 592.38h4.10v4.96h-4.10zM1955.50 597.34h4.10v4.96h-4.10zM1959.60 602.30h4.10v4.96h-4.10zM1963.71 607.25h4.10v4.96h-4.10zM1963.71 612.21h4.10v4.96h-4.10zM1967.81 617.16h4.10v4.96h-4.10zM1971.91 622.12h4.10v4.96h-4.10zM1976.01 627.07h4.10v4.96h-4.10zM1980.11 632.02h4.10v4.96h-4.10zM1984.21 636.98h4.10v4.96h-4.10zM1988.31 641.94h4.10v4.96h-4.10zM1992.41 646.89h4.10v4.96h-4.10zM1996.51 651.85h4.10v4.96h-4.10zM2000.62 656.80h4.10v4.96h-4.10zM2004.72 661.75h4.10v4.96h-4.10zM2008.82 666.71h4.10v4.96h-4.10zM2012.92 671.66h8.20v4.96h-8.20zM2021.12 676.62h4.10v4.96h-4.10zM2025.22 681.58h4.10v4.96h-4.10zM2029.32 686.53h4.10v4.96h-4.10zM2033.42 691.49h4.10v4.96h-4.10zM2037.53 696.44h4.10v4.96h-4.10zM2041.63 701.39h4.10v4.96h-4.10zM2045.73 706.35h4.10v4.96h-4.10zM2053.93 716.26h4.10v4.96h-4.10zM2062.13 721.22h4.10v4.96h-4.10zM2066.23 726.17h8.20v4.96h-8.20zM2074.44 731.12h4.10v4.96h-4.10zM2078.54 736.08h8.20v4.96h-8.20zM2086.74 741.03h4.10v4.96h-4.10zM2090.84 745.99h4.10v4.96h-4.10zM2103.14 755.90h4.10v4.96h-4.10zM2111.35 760.86h4.10v4.96h-4.10zM2119.55 765.81h4.10v4.96h-4.10zM2123.65 770.76h8.20v4.96h-8.20zM2131.85 775.72h4.10v4.96h-4.10zM2135.95 780.68h4.10v4.96h-4.10zM2140.05 785.63h8.20v4.96h-8.20zM2148.26 790.59h4.10v4.96h-4.10zM2152.36 795.54h8.20v4.96h-8.20zM2160.56 800.50h8.20v4.96h-8.20zM2172.86 805.45h4.10v4.96h-4.10zM2181.06 810.40h4.10v4.96h-4.10zM2197.47 815.36h4.10v4.96h-4.10zM2209.77 825.27h4.10v4.96h-4.10zM2222.08 835.18h4.10v4.96h-4.10zM2226.18 840.13h8.20v4.96h-8.20zM2234.38 845.09h4.10v4.96h-4.10zM2242.58 850.05h4.10v4.96h-4.10zM2246.68 855.00h8.20v4.96h-8.20zM2254.88 859.96h4.10v4.96h-4.10zM2271.29 874.82h4.10v4.96h-4.10zM2275.39 879.77h8.20v4.96h-8.20zM2283.59 884.73h4.10v4.96h-4.10zM2287.69 889.69h8.20v4.96h-8.20zM2308.20 894.64h4.10v4.96h-4.10zM2316.40 899.60h4.10v4.96h-4.10zM2320.50 904.55h4.10v4.96h-4.10zM2328.70 909.50h4.10v4.96h-4.10z" fill="#0000ff"/>
<path d="M257.65 57.25h4.10v4.96h-4.10zM261.75 62.20h20.51v4.96h-20.51zM282.25 67.16h32.81v4.96h-32.81zM315.06 72.11h28.71v4.96h-28.71zM343.77 77.06h16.40v4.96h-16.40zM360.18 82.02h20.51v4.96h-20.51zM380.68 86.97h16.40v4.96h-16.40zM397.09 91.93h20.51v4.96h-20.51zM417.59 96.88h16.40v4.96h-16.40zM434.00 101.84h20.51v4.96h-20.51zM454.50 106.80h20.51v4.96h-20.51zM475.01 111.75h20.51v4.96h-20.51zM495.51 116.70h16.40v4.96h-16.40zM511.92 121.66h20.51v4.96h-20.51zM532.42 126.61h16.40v4.96h-16.40zM1836.57 126.61h4.10v4.96h-4.10zM548.83 131.57h20.51v4.96h-20.51zM1836.57 131.57h4.10v4.96h-4.10zM569.33 136.53h32.81v4.96h-32.81zM1836.57 136.53h4.10v4.96h-4.10zM602.14 141.48h32.81v4.96h-32.81zM1836.57 141.48h4.10v4.96h-4.10zM634.95 146.44h16.40v4.96h-16.40zM1836.57 146.44h4.10v4.96h-4.10zM651.35 151.39h20.51v4.96h-20.51zM1836.57 151.39h4.10v4.96h-4.10zM671.86 156.34h20.51v4.96h-20.51zM1836.57 156.34h4.10v4.96h-4.10zM692.36 161.30h16.40v4.96h-16.40zM1836.57 161.30h4.10v4.96h-4.10zM708.77 166.26h16.40v4.96h-16.40zM1836.57 166.26h4.10v4.96h-4.10zM725.17 171.21h12.30v4.96h-12.30zM1836.57 171.21h4.10v4.96h-4.10zM737.48 176.17h12.30v4.96h-12.30zM1836.57 176.17h4.10v4.96h-4.10zM749.78 181.12h12.30v4.96h-12.30zM1836.57 181.12h4.10v4.96h-4.10zM762.08 186.08h16.40v4.96h-16.40zM1836.57 186.08h4.10v4.96h-4.10zM778.49 191.03h20.51v4.96h-20.51zM1836.57 191.03h4.10v4.96h-4.10zM798.99 195.99h20.51v4.96h-20.51zM1836.57 195.99h4.10v4.96h-4.10zM819.50 200.94h16.40v4.96h-16.40zM1836.57 200.94h4.10v4.96h-4.10zM835.90 205.90h20.51v4.96h-20.51zM1836.57 205.90h4.10v4.96h-4.10zM856.41 210.85h16.40v4.96h-16.40zM1836.57 210.85h4.10v4.96h-4.10zM872.81 215.81h12.30v4.96h-12.30zM1836.57 215.81h4.10v4.96h-4.10zM885.12 220.76h12.30v4.96h-12.30zM1836.57 220.76h4.10v4.96h-4.10zM897.42 225.72h12.30v4.96h-12.30zM1836.57 225.72h4.10v4.96h-4.10zM909.72 230.67h12.30v4.96h-12.30zM1836.57 230.67h4.10v4.96h-4.10zM922.03 235.62h16.40v4.96h-16.40zM1836.57 235.62h4.10v4.96h-4.10zM938.43 240.58h12.30v4.96h-12.30zM1836.57 240.58h4.10v4.96h-4.10zM950.73 245.54h12.30v4.96h-12.30zM1836.57 245.54h4.10v4.96h-4.10zM963.04 250.49h16.40v4.96h-16.40zM1836.57 250.49h4.10v4.96h-4.10zM979.44 255.45h12.30v4.96h-12.30zM1836.57 255.45h4.10v4.96h-4.10zM991.75 260.40h12.30v4.96h-12.30zM1836.57 260.40h4.10v4.96h-4.10zM1004.05 265.36h12.30v4.96h-12.30zM1836.57 265.36h4.10v4.96h-4.10zM1016.35 270.31h8.20v4.96h-8.20zM1836.57 270.31h4.10v4.96h-4.10zM1024.55 275.26h12.30v4.96h-12.30zM1836.57 275.26h4.10v4.96h-4.10zM1036.86 280.22h8.20v4.96h-8.20zM1836.57 280.22h8.20v4.96h-8.20zM1045.06 285.18h8.20v4.96h-8.20zM1836.57 285.18h8.20v4.96h-8.20zM1053.26 290.13h8.20v4.96h-8.20zM1836.57 290.13h8.20v4.96h-8.20zM1061.46 295.09h12.30v4.96h-12.30zM1836.57 295.09h8.20v4.96h-8.20zM1073.77 300.04h12.30v4.96h-12.30zM1836.57 300.04h8.20v4.96h-8.20zM1086.07 305.00h12.30v4.96h-12.30zM1836.57 305.00h8.20v4.96h-8.20zM1098.37 309.95h12.30v4.96h-12.30zM1836.57 309.95h8.20v4.96h-8.20zM1110.68 314.91h12.30v4.96h-12.30zM1836.57 314.91h8.20v4.96h-8.20zM1122.98 319.86h12.30v4.96h-12.30zM1836.57 319.86h8.20v4.96h-8.20zM1135.28 324.81h12.30v4.96h-12.30zM1836.57 324.81h8.20v4.96h-8.20zM1147.59 329.77h12.30v4.96h-12.30zM1836.57 329.77h8.20v4.96h-8.20zM1159.89 334.73h8.20v4.96h-8.20zM1836.57 334.73h8.20v4.96h-8.20zM1168.09 339.68h4.10v4.96h-4.10zM1836.57 339.68h8.20v4.96h-8.20zM1172.19 344.63h12.30v4.96h-12.30zM1836.57 344.63h8.20v4.96h-8.20zM1184.50 349.59h12.30v4.96h-12.30zM1836.57 349.59h8.20v4.96h-8.20zM1196.80 354.55h12.30v4.96h-12.30zM1836.57 354.55h8.20v4.96h-8.20zM1209.10 359.50h12.30v4.96h-12.30zM1836.57 359.50h8.20v4.96h-8.20zM1221.41 364.46h8.20v4.96h-8.20zM1836.57 364.46h8.20v4.96h-8.20zM1229.61 369.41h8.20v4.96h-8.20zM1836.57 369.41h8.20v4.96h-8.20zM1237.81 374.37h12.30v4.96h-12.30zM1836.57 374.37h8.20v4.96h-8.20zM1250.11 379.32h8.20v4.96h-8.20zM1836.57 379.32h8.20v4.96h-8.20zM1258.32 384.28h8.20v4.96h-8.20zM1836.57 384.28h8.20v4.96h-8.20zM1266.52 389.23h16.40v4.96h-16.40zM1836.57 389.23h8.20v4.96h-8.20zM1282.92 394.19h12.30v4.96h-12.30zM1836.57 394.19h8.20v4.96h-8.20zM1295.23 399.14h12.30v4.96h-12.30zM1836.57 399.14h8.20v4.96h-8.20zM1307.53 404.10h16.40v4.96h-16.40zM1836.57 404.10h8.20v4.96h-8.20zM1323.93 409.05h12.30v4.96h-12.30zM1836.57 409.05h8.20v4.96h-8.20zM1336.24 414.00h12.30v4.96h-12.30zM1836.57 414.00h8.20v4.96h-8.20zM1348.54 418.96h12.30v4.96h-12.30zM1836.57 418.96h8.20v4.96h-8.20zM1360.84 423.92h12.30v4.96h-12.30zM1836.57 423.92h8.20v4.96h-8.20zM1373.15 428.87h12.30v4.96h-12.30zM1832.47 428.87h4.10v4.96h-4.10zM1840.67 428.87h4.10v4.96h-4.10zM1385.45 433.82h12.30v4.96h-12.30zM1832.47 433.82h4.10v4.96h-4.10zM1840.67 433.82h4.10v4.96h-4.10zM1397.75 438.78h12.30v4.96h-12.30zM1832.47 438.78h4.10v4.96h-4.10zM1844.77 438.78h4.10v4.96h-4.10zM1410.06 443.74h12.30v4.96h-12.30zM1832.47 443.74h4.10v4.96h-4.10zM1844.77 443.74h4.10v4.96h-4.10zM1422.36 448.69h12.30v4.96h-12.30zM1832.47 448.69h4.10v4.96h-4.10zM1844.77 448.69h4.10v4.96h-4.10zM1434.66 453.65h12.30v4.96h-12.30zM1828.37 453.65h4.10v4.96h-4.10zM1844.77 453.65h4.10v4.96h-4.10zM1446.97 458.60h12.30v4.96h-12.30zM1828.37 458.60h4.10v4.96h-4.10zM1844.77 458.60h4.10v4.96h-4.10zM1459.27 463.56h16.40v4.96h-16.40zM1828.37 463.56h4.10v4.96h-4.10zM1844.77 463.56h4.10v4.96h-4.10zM1475.67 468.51h20.51v4.96h-20.51zM1828.37 468.51h4.10v4.96h-4.10zM1844.77 468.51h4.10v4.96h-4.10zM1496.18 473.47h20.51v4.96h-20.51zM1824.27 473.47h4.10v4.96h-4.10zM1844.77 473.47h4.10v4.96h-4.10zM1516.69 478.42h12.30v4.96h-12.30zM1824.27 478.42h4.10v4.96h-4.10zM1844.77 478.42h4.10v4.96h-4.10zM1528.99 483.38h12.30v4.96h-12.30zM1820.17 483.38h4.10v4.96h-4.10zM1848.88 483.38h4.10v4.96h-4.10zM1541.29 488.33h12.30v4.96h-12.30zM1820.17 488.33h4.10v4.96h-4.10zM1848.88 488.33h4.10v4.96h-4.10zM1553.60 493.29h16.40v4.96h-16.40zM1820.17 493.29h4.10v4.96h-4.10zM1852.98 493.29h4.10v4.96h-4.10zM1570.00 498.24h36.91v4.96h-36.91zM1816.07 498.24h4.10v4.96h-4.10zM1852.98 498.24h4.10v4.96h-4.10zM1606.91 503.19h20.51v4.96h-20.51zM1811.97 503.19h4.10v4.96h-4.10zM1857.08 503.19h4.10v4.96h-4.10zM1627.42 508.15h20.51v4.96h-20.51zM1803.76 508.15h8.20v4.96h-8.20zM1857.08 508.15h4.10v4.96h-4.10zM1647.92 513.11h28.71v4.96h-28.71zM1791.46 513.11h12.30v4.96h-12.30zM1857.08 513.11h4.10v4.96h-4.10zM1676.63 518.06h45.11v4.96h-45.11zM1766.85 518.06h24.61v4.96h-24.61zM1861.18 518.06h4.10v4.96h-4.10zM1721.74 523.01h4.10v4.96h-4.10zM1758.65 523.01h8.20v4.96h-8.20zM1861.18 523.01h4.10v4.96h-4.10zM1725.84 527.97h32.81v4.96h-32.81zM1861.18 527.97h4.10v4.96h-4.10zM1865.28 532.93h4.10v4.96h-4.10zM1865.28 537.88h4.10v4.96h-4.10zM1869.38 542.84h4.10v4.96h-4.10zM1873.48 547.79h4.10v4.96h-4.10zM1877.58 552.75h4.10v4.96h-4.10zM1881.68 557.70h4.10v4.96h-4.10zM1885.78 562.65h4.10v4.96h-4.10zM1885.78 567.61h4.10v4.96h-4.10zM1889.89 572.57h4.10v4.96h-4.10zM1893.99 577.52h4.10v4.96h-4.10zM1898.09 582.48h4.10v4.96h-4.10zM1902.19 587.43h8.20v4.96h-8.20zM1910.39 592.38h4.10v4.96h-4.10zM1914.49 597.34h4.10v4.96h-4.10zM1918.59 602.30h4.10v4.96h-4.10zM1922.69 607.25h8.20v4.96h-8.20zM1930.90 612.21h4.10v4.96h-4.10zM1935.00 617.16h4.10v4.96h-4.10zM1939.10 622.12h4.10v4.96h-4.10zM1943.20 627.07h8.20v4.96h-8.20zM1951.40 632.02h4.10v4.96h-4.10zM1955.50 636.98h4.10v4.96h-4.10zM1959.60 641.94h8.20v4.96h-8.20zM1967.81 646.89h8.20v4.96h-8.20zM1976.01 651.85h8.20v4.96h-8.20zM1984.21 656.80h4.10v4.96h-4.10zM1988.31 661.75h4.10v4.96h-4.10zM1992.41 666.71h8.20v4.96h-8.20zM2000.62 671.66h8.20v4.96h-8.20zM2008.82 676.62h4.10v4.96h-4.10zM2012.92 681.58h8.20v4.96h-8.20zM2021.12 686.53h4.10v4.96h-4.10zM2025.22 691.49h4.10v4.96h-4.10zM2029.32 696.44h8.20v4.96h-8.20zM2037.53 701.39h4.10v4.96h-4.10zM2041.63 706.35h4.10v4.96h-4.10zM2045.73 711.31h12.30v4.96h-12.30zM2058.03 716.26h8.20v4.96h-8.20zM2066.23 721.22h8.20v4.96h-8.20zM2074.44 726.17h4.10v4.96h-4.10zM2078.54 731.12h8.20v4.96h-8.20zM2086.74 736.08h4.10v4.96h-4.10zM2090.84 741.03h4.10v4.96h-4.10zM2094.94 745.99h4.10v4.96h-4.10zM2099.04 750.95h8.20v4.96h-8.20zM2107.24 755.90h8.20v4.96h-8.20zM2115.45 760.86h8.20v4.96h-8.20zM2123.65 765.81h8.20v4.96h-8.20zM2131.85 770.76h4.10v4.96h-4.10zM2135.95 775.72h8.20v4.96h-8.20zM2144.15 780.68h8.20v4.96h-8.20zM2152.36 785.63h4.10v4.96h-4.10zM2156.46 790.59h4.10v4.96h-4.10zM2160.56 795.54h8.20v4.96h-8.20zM2168.76 800.50h8.20v4.96h-8.20zM2176.96 805.45h8.20v4.96h-8.20zM2185.17 810.40h8.20v4.96h-8.20zM2193.37 815.36h4.10v4.96h-4.10zM2197.47 820.32h8.20v4.96h-8.20zM2205.67 825.27h4.10v4.96h-4.10zM2209.77 830.23h8.20v4.96h-8.20zM2217.97 835.18h4.10v4.96h-4.10zM2222.08 840.13h4.10v4.96h-4.10zM2226.18 845.09h8.20v4.96h-8.20zM2234.38 850.05h8.20v4.96h-8.20zM2242.58 855.00h4.10v4.96h-4.10zM2246.68 859.96h8.20v4.96h-8.20zM2254.88 864.91h12.30v4.96h-12.30zM2267.19 869.87h8.20v4.96h-8.20zM2275.39 874.82h8.20v4.96h-8.20zM2283.59 879.77h4.10v4.96h-4.10zM2287.69 884.73h8.20v4.96h-8.20zM2295.89 889.69h8.20v4.96h-8.20zM2304.10 894.64h4.10v4.96h-4.10zM2308.20 899.60h8.20v4.96h-8.20zM2316.40 904.55h4.10v4.96h-4.10zM2320.50 909.50h8.20v4.96h-8.20zM2328.70 914.46h12.30v4.96h-12.30z" fill="#ff0000"/>
<path d="M269.95 1196.89h24.61v4.96h-24.61zM479.11 1196.89h20.51v4.96h-20.51zM516.02 1201.85h20.51v4.96h-20.51zM606.24 1206.81h20.51v4.96h-20.51zM643.15 1211.76h24.61v4.96h-24.61zM680.06 1216.71h20.51v4.96h-20.51zM716.97 1221.67h20.51v4.96h-20.51zM753.88 1226.62h8.20v4.96h-8.20zM778.49 1236.54h4.10v4.96h-4.10zM823.60 1241.49h16.40v4.96h-16.40zM881.02 1256.36h4.10v4.96h-4.10zM1508.48 1256.36h135.34v4.96h-135.34zM1455.17 1261.31h53.31v4.96h-53.31zM1643.82 1261.31h36.91v4.96h-36.91zM917.93 1266.27h4.10v4.96h-4.10zM1438.77 1266.27h16.40v4.96h-16.40zM1680.73 1266.27h16.40v4.96h-16.40zM938.43 1271.22h4.10v4.96h-4.10zM963.04 1271.22h8.20v4.96h-8.20zM1418.26 1271.22h20.51v4.96h-20.51zM1697.13 1271.22h16.40v4.96h-16.40zM991.75 1276.17h8.20v4.96h-8.20zM1385.45 1276.17h16.40v4.96h-16.40zM1713.54 1276.17h12.30v4.96h-12.30zM1348.54 1281.13h20.51v4.96h-20.51zM1725.84 1281.13h12.30v4.96h-12.30zM1016.35 1286.09h12.30v4.96h-12.30zM1315.73 1286.09h12.30v4.96h-12.30zM1738.15 1286.09h12.30v4.96h-12.30zM1036.86 1291.04h28.71v4.96h-28.71zM1102.47 1291.04h16.40v4.96h-16.40zM1270.62 1291.04h45.11v4.96h-45.11zM1750.45 1291.04h24.61v4.96h-24.61zM1229.61 1296.00h16.40v4.96h-16.40zM1775.06 1296.00h8.20v4.96h-8.20zM1783.26 1300.95h4.10v4.96h-4.10zM1787.36 1305.90h12.30v4.96h-12.30zM1799.66 1310.86h12.30v4.96h-12.30zM1811.97 1315.82h8.20v4.96h-8.20zM1820.17 1320.77h4.10v4.96h-4.10zM1824.27 1325.73h8.20v4.96h-8.20zM1832.47 1330.68h4.10v4.96h-4.10zM1836.57 1335.63h4.10v4.96h-4.10zM1840.67 1340.59h8.20v4.96h-8.20zM1848.88 1345.55h4.10v4.96h-4.10zM1852.98 1350.50h4.10v4.96h-4.10zM1857.08 1355.45h4.10v4.96h-4.10zM1861.18 1360.41h8.20v4.96h-8.20zM1869.38 1365.37h8.20v4.96h-8.20zM1877.58 1370.32h4.10v4.96h-4.10zM1877.58 1375.28h4.10v4.96h-4.10zM1881.68 1380.23h4.10v4.96h-4.10zM1881.68 1385.18h4.10v4.96h-4.10zM1881.68 1390.14h4.10v4.96h-4.10zM1885.78 1395.10h4.10v4.96h-4.10zM1889.89 1400.05h4.10v4.96h-4.10zM1893.99 1405.01h4.10v4.96h-4.10zM1898.09 1409.96h4.10v4.96h-4.10zM1898.09 1414.91h4.10v4.96h-4.10zM1902.19 1419.87h4.10v4.96h-4.10zM1902.19 1424.83h4.10v4.96h-4.10zM1902.19 1429.78h4.10v4.96h-4.10zM1906.29 1434.74h4.10v4.96h-4.10zM1906.29 1439.69h4.10v4.96h-4.10zM1906.29 1444.64h4.10v4.96h-4.10zM1906.29 1449.60h4.10v4.96h-4.10zM1910.39 1454.56h4.10v4.96h-4.10zM1910.39 1459.51h4.10v4.96h-4.10zM1910.39 1464.46h4.10v4.96h-4.10zM1914.49 1469.42h4.10v4.96h-4.10zM1914.49 1474.38h4.10v4.96h-4.10zM1914.49 1479.33h4.10v4.96h-4.10zM1918.59 1484.29h4.10v4.96h-4.10zM1918.59 1489.24h4.10v4.96h-4.10zM1918.59 1494.19h4.10v4.96h-4.10zM1922.69 1499.15h4.10v4.96h-4.10zM1922.69 1504.11h4.10v4.96h-4.10zM1926.80 1509.06h4.10v4.96h-4.10zM1926.80 1514.02h4.10v4.96h-4.10zM1926.80 1518.97h4.10v4.96h-4.10zM1930.90 1523.92h4.10v4.96h-4.10zM1930.90 1528.88h4.10v4.96h-4.10zM1930.90 1533.84h4.10v4.96h-4.10zM1935.00 1538.79h4.10v4.96h-4.10zM1935.00 1543.75h4.10v4.96h-4.10zM1939.10 1548.70h4.10v4.96h-4.10zM1939.10 1553.65h4.10v4.96h-4.10zM1939.10 1558.61h4.10v4.96h-4.10zM1943.20 1563.57h4.10v4.96h-4.10zM1943.20 1568.52h4.10v4.96h-4.10zM1943.20 1573.48h4.10v4.96h-4.10zM1947.30 1578.43h4.10v4.96h-4.10zM1947.30 1583.38h4.10v4.96h-4.10zM1951.40 1588.34h4.10v4.96h-4.10zM1963.71 1608.16h4.10v4.96h-4.10zM1963.71 1613.12h4.10v4.96h-4.10zM1967.81 1618.07h4.10v4.96h-4.10zM1971.91 1623.03h4.10v4.96h-4.10zM1976.01 1627.98h4.10v4.96h-4.10zM1980.11 1632.93h4.10v4.96h-4.10zM1984.21 1637.89h4.10v4.96h-4.10zM1988.31 1642.85h4.10v4.96h-4.10zM1992.41 1647.80h4.10v4.96h-4.10zM1996.51 1652.76h4.10v4.96h-4.10zM2000.62 1657.71h4.10v4.96h-4.10zM2000.62 1662.66h4.10v4.96h-4.10zM2004.72 1667.62h4.10v4.96h-4.10zM2008.82 1672.58h4.10v4.96h-4.10zM2012.92 1677.53h4.10v4.96h-4.10zM2017.02 1682.49h4.10v4.96h-4.10zM2021.12 1687.44h4.10v4.96h-4.10zM2025.22 1692.39h4.10v4.96h-4.10zM2029.32 1697.35h4.10v4.96h-4.10zM2033.42 1702.31h4.10v4.96h-4.10zM2037.53 1707.26h4.10v4.96h-4.10zM2041.63 1712.22h4.10v4.96h-4.10zM2045.73 1717.17h4.10v4.96h-4.10zM2049.83 1722.12h4.10v4.96h-4.10zM2053.93 1727.08h4.10v4.96h-4.10zM2058.03 1732.04h4.10v4.96h-4.10zM2062.13 1736.99h4.10v4.96h-4.10zM2066.23 1741.94h4.10v4.96h-4.10zM2070.33 1746.90h4.10v4.96h-4.10zM2074.44 1751.86h4.10v4.96h-4.10zM2074.44 1756.81h4.10v4.96h-4.10zM2078.54 1761.77h4.10v4.96h-4.10zM2082.64 1766.72h4.10v4.96h-4.10zM2086.74 1771.67h4.10v4.96h-4.10zM2090.84 1776.63h4.10v4.96h-4.10zM2090.84 1781.59h4.10v4.96h-4.10zM2094.94 1786.54h4.10v4.96h-4.10zM2099.04 1791.50h4.10v4.96h-4.10zM2103.14 1796.45h4.10v4.96h-4.10zM2107.24 1801.40h4.10v4.96h-4.10zM2107.24 1806.36h4.10v4.96h-4.10zM2111.35 1811.32h4.10v4.96h-4.10zM2115.45 1816.27h4.10v4.96h-4.10zM2115.45 1821.23h4.10v4.96h-4.10zM2119.55 1826.18h4.10v4.96h-4.10zM2123.65 1831.13h4.10v4.96h-4.10zM2123.65 1836.09h4.10v4.96h-4.10zM2127.75 1841.05h4.10v4.96h-4.10zM2131.85 1850.95h4.10v4.96h-4.10zM2135.95 1860.87h4.10v4.96h-4.10z" fill="#0000ff"/>
<path d="M257.65 1191.94h36.91v4.96h-36.91zM294.56 1196.89h184.55v4.96h-184.55zM479.11 1201.85h36.91v4.96h-36.91zM516.02 1206.81h90.22v4.96h-90.22zM606.24 1211.76h36.91v4.96h-36.91zM643.15 1216.71h36.91v4.96h-36.91zM680.06 1221.67h36.91v4.96h-36.91zM716.97 1226.62h36.91v4.96h-36.91zM753.88 1231.58h28.71v4.96h-28.71zM782.59 1236.54h20.51v4.96h-20.51zM1598.71 1236.54h114.83v4.96h-114.83zM803.09 1241.49h20.51v4.96h-20.51zM1565.90 1241.49h32.81v4.96h-32.81zM1713.54 1241.49h8.20v4.96h-8.20zM823.60 1246.44h36.91v4.96h-36.91zM1524.89 1246.44h41.01v4.96h-41.01zM1721.74 1246.44h45.11v4.96h-45.11zM860.51 1251.40h24.61v4.96h-24.61zM1487.98 1251.40h36.91v4.96h-36.91zM1766.85 1251.40h24.61v4.96h-24.61zM885.12 1256.36h16.40v4.96h-16.40zM1455.17 1256.36h32.81v4.96h-32.81zM1791.46 1256.36h12.30v4.96h-12.30zM901.52 1261.31h20.51v4.96h-20.51zM1434.66 1261.31h20.51v4.96h-20.51zM1803.76 1261.31h24.61v4.96h-24.61zM922.03 1266.27h20.51v4.96h-20.51zM1418.26 1266.27h16.40v4.96h-16.40zM1828.37 1266.27h4.10v4.96h-4.10zM942.53 1271.22h20.51v4.96h-20.51zM1385.45 1271.22h32.81v4.96h-32.81zM1832.47 1271.22h8.20v4.96h-8.20zM963.04 1276.17h28.71v4.96h-28.71zM1348.54 1276.17h36.91v4.96h-36.91zM1836.57 1276.17h4.10v4.96h-4.10zM991.75 1281.13h36.91v4.96h-36.91zM1311.63 1281.13h36.91v4.96h-36.91zM1836.57 1281.13h4.10v4.96h-4.10zM1028.65 1286.09h36.91v4.96h-36.91zM1270.62 1286.09h41.01v4.96h-41.01zM1836.57 1286.09h4.10v4.96h-4.10zM1065.56 1291.04h36.91v4.96h-36.91zM1229.61 1291.04h41.01v4.96h-41.01zM1836.57 1291.04h4.10v4.96h-4.10zM1102.47 1296.00h127.13v4.96h-127.13zM1836.57 1296.00h4.10v4.96h-4.10zM1836.57 1300.95h4.10v4.96h-4.10zM1836.57 1305.90h4.10v4.96h-4.10zM1836.57 1310.86h4.10v4.96h-4.10zM1836.57 1315.82h4.10v4.96h-4.10zM1836.57 1320.77h4.10v4.96h-4.10zM1836.57 1325.73h4.10v4.96h-4.10zM1836.57 1330.68h4.10v4.96h-4.10zM1836.57 1335.63h4.10v4.96h-4.10zM1836.57 1340.59h4.10v4.96h-4.10zM1836.57 1345.55h4.10v4.96h-4.10zM1836.57 1350.50h4.10v4.96h-4.10zM1836.57 1355.45h4.10v4.96h-4.10zM1836.57 1360.41h4.10v4.96h-4.10zM1836.57 1365.37h4.10v4.96h-4.10zM1836.57 1370.32h4.10v4.96h-4.10zM1836.57 1375.28h4.10v4.96h-4.10zM1836.57 1380.23h4.10v4.96h-4.10zM1836.57 1385.18h4.10v4.96h-4.10zM1836.57 1390.14h4.10v4.96h-4.10zM1836.57 1395.10h4.10v4.96h-4.10zM1836.57 1400.05h4.10v4.96h-4.10zM1836.57 1405.01h4.10v4.96h-4.10zM1836.57 1409.96h4.10v4.96h-4.10zM1836.57 1414.91h4.10v4.96h-4.10zM1836.57 1419.87h4.10v4.96h-4.10zM1836.57 1424.83h4.10v4.96h-4.10zM1836.57 1429.78h4.10v4.96h-4.10zM1836.57 1434.74h4.10v4.96h-4.10zM1836.57 1439.69h4.10v4.96h-4.10zM1836.57 1444.64h4.10v4.96h-4.10zM1836.57 1449.60h4.10v4.96h-4.10zM1836.57 1454.56h4.10v4.96h-4.10zM1836.57 1459.51h4.10v4.96h-4.10zM1836.57 1464.46h4.10v4.96h-4.10zM1836.57 1469.42h4.10v4.96h-4.10zM1840.67 1474.38h4.10v4.96h-4.10zM1840.67 1479.33h4.10v4.96h-4.10zM1840.67 1484.29h4.10v4.96h-4.10zM1840.67 1489.24h4.10v4.96h-4.10zM1840.67 1494.19h4.10v4.96h-4.10zM1840.67 1499.15h4.10v4.96h-4.10zM1840.67 1504.11h4.10v4.96h-4.10zM1840.67 1509.06h4.10v4.96h-4.10zM1840.67 1514.02h4.10v4.96h-4.10zM1840.67 1518.97h4.10v4.96h-4.10zM1840.67 1523.92h4.10v4.96h-4.10zM1840.67 1528.88h4.10v4.96h-4.10zM1840.67 1533.84h4.10v4.96h-4.10zM1844.77 1538.79h16.40v4.96h-16.40zM1861.18 1543.75h8.20v4.96h-8.20zM1869.38 1548.70h8.20v4.96h-8.20zM1877.58 1553.65h12.30v4.96h-12.30zM1889.89 1558.61h12.30v4.96h-12.30zM1902.19 1563.57h12.30v4.96h-12.30zM1914.49 1568.52h8.20v4.96h-8.20zM1922.69 1573.48h8.20v4.96h-8.20zM1930.90 1578.43h4.10v4.96h-4.10zM1935.00 1583.38h8.20v4.96h-8.20zM1943.20 1588.34h8.20v4.96h-8.20zM1951.40 1593.30h4.10v4.96h-4.10zM1955.50 1598.25h4.10v4.96h-4.10zM1959.60 1603.20h8.20v4.96h-8.20zM1967.81 1608.16h8.20v4.96h-8.20zM1976.01 1613.12h4.10v4.96h-4.10zM1980.11 1618.07h4.10v4.96h-4.10zM1984.21 1623.03h4.10v4.96h-4.10zM1988.31 1627.98h4.10v4.96h-4.10zM1992.41 1632.93h4.10v4.96h-4.10zM1996.51 1637.89h8.20v4.96h-8.20zM2004.72 1642.85h8.20v4.96h-8.20zM2012.92 1647.80h4.10v4.96h-4.10zM2017.02 1652.76h4.10v4.96h-4.10zM2021.12 1657.71h4.10v4.96h-4.10zM2021.12 1662.66h4.10v4.96h-4.10zM2025.22 1667.62h4.10v4.96h-4.10zM2029.32 1672.58h4.10v4.96h-4.10zM2033.42 1677.53h4.10v4.96h-4.10zM2037.53 1682.49h4.10v4.96h-4.10zM2041.63 1687.44h4.10v4.96h-4.10zM2045.73 1692.39h4.10v4.96h-4.10zM2049.83 1697.35h4.10v4.96h-4.10zM2053.93 1702.31h4.10v4.96h-4.10zM2058.03 1707.26h4.10v4.96h-4.10zM2062.13 1712.22h4.10v4.96h-4.10zM2066.23 1717.17h4.10v4.96h-4.10zM2070.33 1722.12h4.10v4.96h-4.10zM2070.33 1727.08h4.10v4.96h-4.10zM2074.44 1732.04h4.10v4.96h-4.10zM2078.54 1736.99h4.10v4.96h-4.10zM2078.54 1741.94h4.10v4.96h-4.10zM2082.64 1746.90h4.10v4.96h-4.10zM2082.64 1751.86h4.10v4.96h-4.10zM2086.74 1756.81h4.10v4.96h-4.10zM2086.74 1761.77h4.10v4.96h-4.10zM2090.84 1766.72h4.10v4.96h-4.10zM2094.94 1771.67h4.10v4.96h-4.10zM2094.94 1776.63h4.10v4.96h-4.10zM2099.04 1781.59h4.10v4.96h-4.10zM2103.14 1786.54h4.10v4.96h-4.10zM2103.14 1791.50h4.10v4.96h-4.10zM2107.24 1796.45h4.10v4.96h-4.10zM2111.35 1801.40h4.10v4.96h-4.10zM2111.35 1806.36h4.10v4.96h-4.10zM2115.45 1811.32h4.10v4.96h-4.10zM2115.45 1816.27h4.10v4.96h-4.10zM2119.55 1821.23h4.10v4.96h-4.10zM2123.65 1826.18h4.10v4.96h-4.10zM2123.65 1831.13h4.10v4.96h-4.10zM2127.75 1836.09h4.10v4.96h-4.10zM2127.75 1841.05h4.10v4.96h-4.10zM2131.85 1846.00h4.10v4.96h-4.10zM2131.85 1850.95h4.10v4.96h-4.10zM2135.95 1855.91h4.10v4.96h-4.10zM2140.05 1860.87h4.10v4.96h-4.10zM2140.05 1865.82h4.10v4.96h-4.10z" fill="#ff0000"/>
<line x1="1652.0" y1="47.2" x2="1652.0" y2="1861.4" stroke="#ff0000" stroke-width="7.8" stroke-dasharray="39.6 29.8"/>
<rect x="1648.1" y="1861.2" width="3.9" height="4.8" fill="#ff8080"/>
<rect x="1652.0" y="1861.2" width="3.9" height="4.8" fill="#b83030"/>
</g>
<g id="legend">
<rect x="319.16" y="636.98" width="561.85" height="267.57" fill="#000"/>
<rect x="327.07" y="646.69" width="546.05" height="248.15" fill="#fdfdfd"/>
<line x1="331.47" y1="708.83" x2="446.30" y2="708.83" stroke="#ff0000" stroke-width="4.955" stroke-dasharray="49.21 16.40"/>
<line x1="331.47" y1="812.88" x2="446.30" y2="812.88" stroke="#2f5597" stroke-width="4.955" stroke-dasharray="49.21 16.40"/>
<text transform="translate(470.85,725.70) scale(0.9032,1)" font-family="'Liberation Serif', serif" font-size="80.91" fill="#000" stroke="#fdfdfd" stroke-width="1.4">Single loop</text>
<text transform="translate(473.37,829.20) scale(0.9197,1)" font-family="'Liberation Serif', serif" font-size="80.91" fill="#000" stroke="#fdfdfd" stroke-width="1.4">Double loop</text>
</g>
<g id="ticklabels">
<text transform="translate(137.50,72.07) scale(0.8502,1)" font-family="'Liberation Sans', sans-serif" font-size="70.57" fill="#808080" stroke="#fdfdfd" stroke-width="1.0">100</text>
<text transform="translate(170.80,304.95) scale(0.8502,1)" font-family="'Liberation Sans', sans-serif" font-size="70.57" fill="#808080" stroke="#fdfdfd" stroke-width="1.0">50</text>
<text transform="translate(204.40,532.88) scale(0.8502,1)" font-family="'Liberation Sans', sans-serif" font-size="70.57" fill="#808080" stroke="#fdfdfd" stroke-width="1.0">0</text>
<text transform="translate(151.00,765.77) scale(0.8502,1)" font-family="'Liberation Sans', sans-serif" font-size="70.57" fill="#808080" stroke="#fdfdfd" stroke-width="1.0">-50</text>
<text transform="translate(117.70,993.70) scale(0.8502,1)" font-family="'Liberation Sans', sans-serif" font-size="70.57" fill="#808080" stroke="#fdfdfd" stroke-width="1.0">-100</text>
<text transform="translate(204.40,1082.89) scale(0.8502,1)" font-family="'Liberation Sans', sans-serif" font-size="70.57" fill="#808080" stroke="#fdfdfd" stroke-width="1.0">0</text>
<text transform="translate(151.00,1211.72) scale(0.8502,1)" font-family="'Liberation Sans', sans-serif" font-size="70.57" fill="#808080" stroke="#fdfdfd" stroke-width="1.0">-90</text>
<text transform="translate(117.70,1345.50) scale(0.8502,1)" font-family="'Liberation Sans', sans-serif" font-size="70.57" fill="#808080" stroke="#fdfdfd" stroke-width="1.0">-180</text>
<text transform="translate(117.70,1474.33) scale(0.8502,1)" font-family="'Liberation Sans', sans-serif" font-size="70.57" fill="#808080" stroke="#fdfdfd" stroke-width="1.0">-270</text>
<text transform="translate(117.70,1608.12) scale(0.8502,1)" font-family="'Liberation Sans', sans-serif" font-size="70.57" fill="#808080" stroke="#fdfdfd" stroke-width="1.0">-360</text>
<text transform="translate(117.70,1741.90) scale(0.8502,1)" font-family="'Liberation Sans', sans-serif" font-size="70.57" fill="#808080" stroke="#fdfdfd" stroke-width="1.0">-450</text>
<text transform="translate(117.70,1870.73) scale(0.8502,1)" font-family="'Liberation Sans', sans-serif" font-size="70.57" fill="#808080" stroke="#fdfdfd" stroke-width="1.0">-540</text>
<text transform="translate(503.29,1979.70) scale(0.8496,1)" font-family="'Liberation Sans', sans-serif" font-size="70.86" fill="#808080" stroke="#fdfdfd" stroke-width="1.0">10</text>
<text transform="translate(566.63,1934.90) scale(1.0805,1)" font-family="'Liberation Sans', sans-serif" font-size="49.43" fill="#808080" stroke="#fdfdfd" stroke-width="0.8">2</text>
<text transform="translate(889.54,1979.70) scale(0.8397,1)" font-family="'Liberation Sans', sans-serif" font-size="70.86" fill="#808080" stroke="#fdfdfd" stroke-width="1.0">10</text>
<text transform="translate(952.95,1934.90) scale(1.0374,1)" font-family="'Liberation Sans', sans-serif" font-size="49.43" fill="#808080" stroke="#fdfdfd" stroke-width="0.8">3</text>
<text transform="translate(1277.96,1979.70) scale(0.8538,1)" font-family="'Liberation Sans', sans-serif" font-size="70.86" fill="#808080" stroke="#fdfdfd" stroke-width="1.0">10</text>
<text transform="translate(1343.07,1934.90) scale(0.9954,1)" font-family="'Liberation Sans', sans-serif" font-size="49.43" fill="#808080" stroke="#fdfdfd" stroke-width="0.8">4</text>
<text transform="translate(1663.42,1979.70) scale(0.8609,1)" font-family="'Liberation Sans', sans-serif" font-size="70.86" fill="#808080" stroke="#fdfdfd" stroke-width="1.0">10</text>
<text transform="translate(1728.55,1934.90) scale(1.0392,1)" font-family="'Liberation Sans', sans-serif" font-size="49.43" fill="#808080" stroke="#fdfdfd" stroke-width="0.8">5</text>
<text transform="translate(2053.43,1979.70) scale(0.8609,1)" font-family="'Liberation Sans', sans-serif" font-size="70.86" fill="#808080" stroke="#fdfdfd" stroke-width="1.0">10</text>
<text transform="translate(2112.93,1934.90) scale(1.0819,1)" font-family="'Liberation Sans', sans-serif" font-size="49.43" fill="#808080" stroke="#fdfdfd" stroke-width="0.8">6</text>
</g>
<g id="axislabels">
<g aria-label="Frequency (rad/s)">
<text transform="translate(1042.81,2098.20) scale(0.8165,1)" font-family="'Liberation Sans', sans-serif" font-size="71.74" fill="#000" stroke="#fdfdfd" stroke-width="1.4">Frequency</text>
<text transform="translate(1351.55,2098.20) scale(0.8701,1)" font-family="'Liberation Sans', sans-serif" font-size="71.74" fill="#000" stroke="#fdfdfd" stroke-width="1.4">(rad/s)</text>
</g>
<g aria-label="Magnitude (dB)">
<text transform="translate(64.80,757.51) rotate(-90) scale(1.1654,1)" font-family="'Liberation Sans', sans-serif" font-size="59.13" fill="#000" stroke="#fdfdfd" stroke-width="1.4">Magnitude</text>
<text transform="translate(64.80,418.95) rotate(-90) scale(1.1977,1)" font-family="'Liberation Sans', sans-serif" font-size="59.13" fill="#000" stroke="#fdfdfd" stroke-width="1.4">(dB)</text>
</g>
<g aria-label="Phase (deg)">
<text transform="translate(64.80,1654.40) rotate(-90) scale(1.1844,1)" font-family="'Liberation Sans', sans-serif" font-size="59.13" fill="#000" stroke="#fdfdfd" stroke-width="1.4">Phase</text>
<text transform="translate(64.80,1434.57) rotate(-90) scale(1.1754,1)" font-family="'Liberation Sans', sans-serif" font-size="59.13" fill="#000" stroke="#fdfdfd" stroke-width="1.4">(deg)</text>
</g>
</g>
</svg>
</body>
</html>
